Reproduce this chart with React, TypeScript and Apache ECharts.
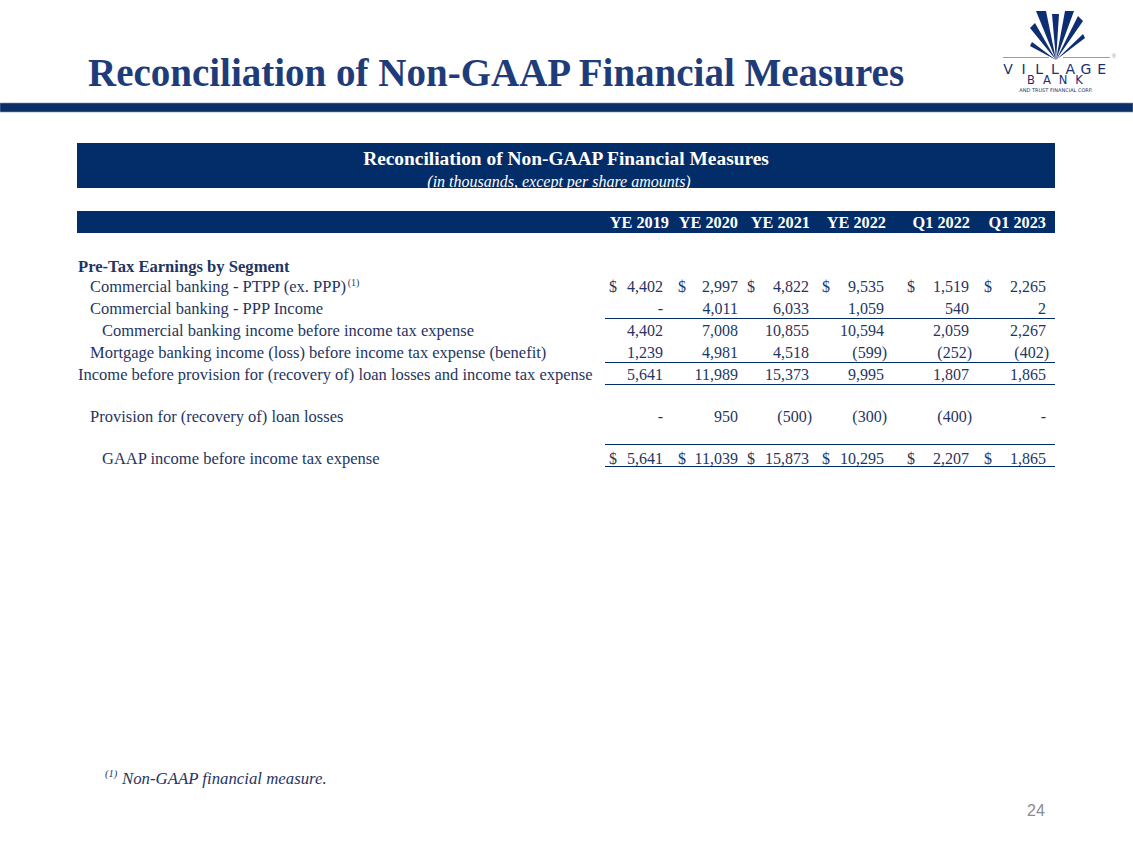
import React, { useEffect, useRef } from "react";
import * as echarts from "echarts";

// ---------- DATA ----------
const columnHeaders = ["YE 2019", "YE 2020", "YE 2021", "YE 2022", "Q1 2022", "Q1 2023"];
const sectionLabel = "Pre-Tax Earnings by Segment";
const ptppLabel = "Commercial banking - PTPP (ex. PPP)";
const ptpp = [4402, 2997, 4822, 9535, 1519, 2265];
const pppLabel = "Commercial banking - PPP Income";
const pppIncome: (number | null)[] = [null, 4011, 6033, 1059, 540, 2];
const commercialLabel = "Commercial banking income before income tax expense";
const commercialIncome = [4402, 7008, 10855, 10594, 2059, 2267];
const mortgageLabel = "Mortgage banking income (loss) before income tax expense (benefit)";
const mortgageIncome = [1239, 4981, 4518, -599, -252, -402];
const preProvisionLabel = "Income before provision for (recovery of) loan losses and income tax expense";
const preProvisionIncome = [5641, 11989, 15373, 9995, 1807, 1865];
const provisionLabel = "Provision for (recovery of) loan losses";
const provision: (number | null)[] = [null, 950, -500, -300, -400, null];
const gaapLabel = "GAAP income before income tax expense";
const gaapIncome = [5641, 11039, 15873, 10295, 2207, 1865];

const slideTitle = "Reconciliation of Non-GAAP Financial Measures";
const tableTitle = "Reconciliation of Non-GAAP Financial Measures";
const tableSubtitle = "(in thousands, except per share amounts)";
const footnoteMark = "(1)";
const footnote = "Non-GAAP financial measure.";
const pageNumber = "24";

// ---------- LAYOUT ----------
const NAVY = "#032d69";
const TEXT = "#1f3562";
const TITLE = "#1f3c7a";
const SERIF = "'Liberation Serif', 'Times New Roman', serif";
const LABEL_SIZE = 16.5;
const NUM_SIZE = 16;
const colRight = [663, 738, 809, 884, 969, 1046];
const colHeaderRight = [669, 738, 810, 886, 970, 1046];
const dollarX = [609, 678, 747, 822, 907, 984];

function fmt(v: number | null): string {
  if (v === null) return "-";
  const s = Math.abs(v).toLocaleString("en-US");
  return v < 0 ? `(${s})` : s;
}

function measure(text: string, font: string): number {
  const c = document.createElement("canvas").getContext("2d");
  if (!c) return text.length * 7;
  c.font = font;
  return c.measureText(text).width;
}

function buildGraphics() {
  const g: any[] = [];
  const fontOf = (o: any) =>
    `${o.italic ? "italic " : ""}${o.bold ? "bold " : ""}${o.size || LABEL_SIZE}px ${o.family || SERIF}`;
  const txt = (x: number, y: number, text: string, o: any = {}) =>
    g.push({
      type: "text",
      x,
      y,
      style: {
        text,
        fill: o.fill || TEXT,
        font: fontOf(o),
        textAlign: o.align || "left",
        textVerticalAlign: "middle",
      },
    });
  const hline = (x1: number, x2: number, y: number, color = NAVY, w = 1) =>
    g.push({ type: "line", shape: { x1, y1: y, x2, y2: y }, style: { stroke: color, lineWidth: w } });

  // Slide title
  txt(88, 72, slideTitle, { bold: true, size: 39, fill: TITLE });
  // Top band
  g.push({ type: "rect", shape: { x: 0, y: 103, width: 1133, height: 9 }, style: { fill: "#0b2f66", stroke: "#7f93b5", lineWidth: 0.6 } });

  // Logo
  const apex = [1056, 60];
  const rays = [
    [[1036, 11], [1046, 11]],
    [[1052, 14], [1059, 14]],
    [[1065, 11], [1074, 11]],
    [[1030, 28], [1035, 23]],
    [[1030, 46], [1032, 42]],
    [[1078, 16], [1083, 21]],
    [[1083, 34], [1085, 38]],
  ];
  rays.forEach((r) =>
    g.push({ type: "polygon", shape: { points: [r[0], r[1], apex] }, style: { fill: "#0d2e73" } })
  );
  hline(1003, 1049, 57.5, "#8d9dba", 1);
  hline(1063, 1110, 57.5, "#8d9dba", 1);
  txt(1114, 56, "®", { size: 6, family: "'Liberation Sans', sans-serif", fill: "#8d9dba", align: "center" });
  "VILLAGE".split("").forEach((c, i) =>
    txt(1008 + i * 15.6, 69, c, { size: 14, family: "'DejaVu Sans', sans-serif", fill: "#1a2f6e", align: "center" })
  );
  "BANK".split("").forEach((c, i) =>
    txt(1031 + i * 16, 80, c, { size: 11.5, family: "'DejaVu Sans', sans-serif", fill: "#1a2f6e", align: "center" })
  );
  txt(1056, 90, "AND TRUST FINANCIAL CORP.", { size: 5, family: "'DejaVu Sans', sans-serif", fill: "#1a2f6e", align: "center" });

  // Table header bands
  g.push({ type: "rect", shape: { x: 77, y: 143, width: 978, height: 45 }, style: { fill: NAVY } });
  txt(566, 158, tableTitle, { bold: true, size: 19.4, fill: "#ffffff", align: "center" });
  txt(559, 181, tableSubtitle, { italic: true, size: 16, fill: "#ffffff", align: "center" });
  g.push({ type: "rect", shape: { x: 77, y: 211, width: 978, height: 22 }, style: { fill: NAVY } });
  columnHeaders.forEach((h, i) => txt(colHeaderRight[i], 222, h, { bold: true, size: 16.3, fill: "#ffffff", align: "right" }));

  // Rows
  txt(78, 266, sectionLabel, { bold: true, size: 16.6 });
  const row = (label: string, lx: number, y: number, vals: (number | null)[], dollar = false, sup = false) => {
    txt(lx, y, label, { size: LABEL_SIZE });
    if (sup) {
      const w = measure(label, fontOf({ size: LABEL_SIZE }));
      txt(lx + w + 1, y - 4, footnoteMark, { size: 10 });
    }
    vals.forEach((v, i) => {
      const neg = v !== null && v < 0;
      txt(colRight[i] + (neg ? 3 : 0), y, fmt(v), { size: NUM_SIZE, align: "right" });
      if (dollar) txt(dollarX[i], y, "$", { size: NUM_SIZE });
    });
  };
  row(ptppLabel, 90, 286, ptpp, true, true);
  row(pppLabel, 90, 308, pppIncome);
  hline(605, 1055, 318.5);
  row(commercialLabel, 102, 330, commercialIncome);
  row(mortgageLabel, 90, 352, mortgageIncome);
  hline(605, 1055, 362.5);
  row(preProvisionLabel, 78, 374, preProvisionIncome);
  hline(605, 1055, 384.5);
  row(provisionLabel, 90, 416, provision);
  hline(605, 1055, 444.5);
  row(gaapLabel, 102, 458, gaapIncome, true);
  hline(605, 1055, 466.5);

  // Footnote
  txt(105, 773, footnoteMark, { italic: true, size: 10.5 });
  txt(122, 778, footnote, { italic: true, size: 16.8 });
  // Page number
  txt(1027, 810, pageNumber, { size: 16, family: "'Liberation Sans', sans-serif", fill: "#8c8c8c" });
  return g;
}

export default function App() {
  const ref = useRef<HTMLDivElement>(null);
  useEffect(() => {
    if (!ref.current) return;
    const chart = echarts.init(ref.current, undefined, { renderer: "svg" });
    chart.setOption({
      animation: false,
      backgroundColor: "#ffffff",
      graphic: { elements: buildGraphics() },
    });
    return () => chart.dispose();
  }, []);
  return (
    <div
      ref={ref}
      style={{ position: "fixed", left: 0, top: 0, width: 1133, height: 849, background: "#fff" }}
    />
  );
}
